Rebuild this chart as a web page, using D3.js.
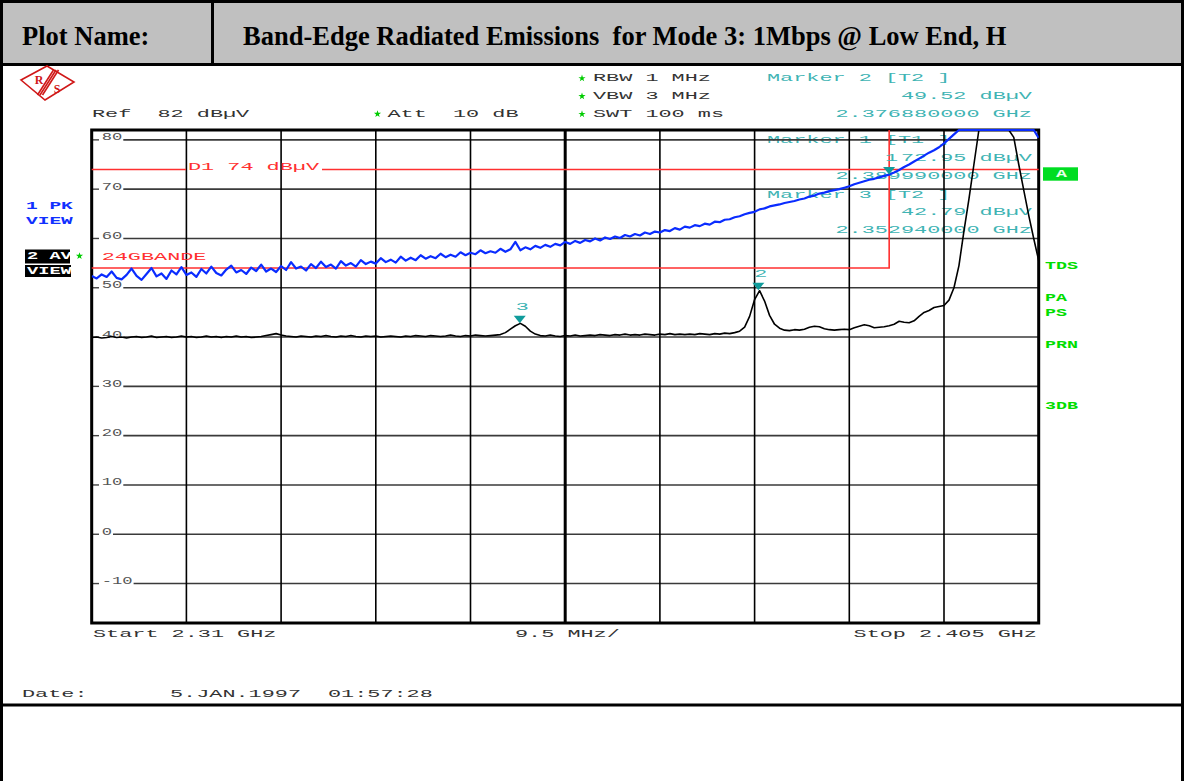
<!DOCTYPE html>
<html><head><meta charset="utf-8">
<script src="https://cdn.jsdelivr.net/npm/d3@7"></script>
<style>
html,body{margin:0;padding:0;background:#fff;}
svg{display:block;}
text{white-space:pre;}
</style></head><body>
<svg id="c" width="1184" height="781"></svg>
<script>
// ---------------- DATA ----------------
const plotTitleLabel = "Plot Name:";
const plotTitle = "Band-Edge Radiated Emissions  for Mode 3: 1Mbps @ Low End, H";
const sweepStartMHz = 2310, sweepStopMHz = 2405, sweepStepMHz = 0.5;
// Trace 1 (PK, max hold) dBµV, one value per sweep step
const trace1PK = [
52.4,51.9,52.7,52.2,53.3,52.0,51.7,52.6,53.9,52.4,
51.6,52.8,54.0,52.3,52.9,51.8,53.5,52.7,54.2,52.6,
53.1,52.2,53.8,52.9,54.3,53.0,52.5,53.7,54.5,53.1,
53.6,52.8,54.1,53.4,54.7,53.3,53.9,53.2,54.4,53.6,
55.2,53.9,54.3,53.5,54.8,54.0,55.3,54.2,54.7,53.9,
55.4,54.5,55.0,54.3,55.6,54.8,55.3,54.9,56.0,55.2,
55.7,55.1,56.3,55.5,56.1,55.6,56.6,55.9,56.4,56.0,
56.9,56.2,56.7,56.3,57.2,56.6,57.1,56.8,57.6,57.0,
57.4,57.1,57.9,57.3,57.8,59.3,57.6,58.2,57.8,58.5,
58.1,58.7,58.3,58.9,58.6,59.3,58.9,59.5,59.1,59.7,
59.4,60.0,59.6,60.2,59.9,60.4,60.1,60.7,60.4,60.9,
60.6,61.2,60.9,61.4,61.2,61.7,61.5,62.1,61.8,62.4,
62.2,62.7,62.5,63.0,62.8,63.4,63.3,63.8,63.9,64.3,
64.5,64.9,65.2,65.4,65.9,66.1,66.5,66.7,66.9,67.2,
67.4,67.6,67.9,68.1,68.5,68.7,69.1,69.3,69.6,69.8,
70.0,70.3,70.6,71.0,71.3,71.6,71.9,72.1,72.4,72.7,
72.95,73.4,73.9,74.5,75.0,75.6,76.2,76.8,77.4,77.9,
78.5,79.3,80.2,81.1,82,82,82,82,82,82,
82,82,82,82,82,82,82,82,82,82,
80.4];
// Trace 2 (AV) dBµV
const trace2AV = [
39.9,40.0,39.8,39.9,40.1,39.9,40.0,39.8,40.0,40.1,
39.9,40.0,40.2,39.9,40.0,40.1,39.9,40.0,40.2,40.0,
40.1,39.9,40.0,40.2,40.0,40.1,39.9,40.1,40.0,40.2,
40.0,40.1,39.9,40.0,40.1,40.3,40.5,40.7,40.4,40.2,
40.1,40.0,40.2,40.1,40.0,40.2,40.1,40.3,40.1,40.0,
40.2,40.1,40.3,40.1,40.0,40.2,40.1,40.2,40.0,40.1,
40.2,40.1,40.0,40.2,40.1,40.3,40.2,40.1,40.3,40.2,
40.1,40.2,40.4,40.2,40.1,40.3,40.2,40.4,40.3,40.2,
40.3,40.4,40.5,40.9,41.6,42.3,42.78,42.2,41.2,40.6,
40.3,40.2,40.4,40.2,40.1,40.3,40.2,40.4,40.2,40.3,
40.4,40.3,40.5,40.4,40.3,40.5,40.4,40.6,40.4,40.5,
40.4,40.6,40.5,40.4,40.6,40.5,40.7,40.5,40.6,40.5,
40.6,40.5,40.7,40.6,40.5,40.7,40.6,40.8,40.7,40.9,
41.2,42.0,44.2,47.6,49.4,47.3,44.4,42.6,41.8,41.4,
41.3,41.5,41.4,41.6,42.0,42.2,42.1,41.7,41.5,41.4,
41.5,41.6,41.5,41.9,42.2,42.5,42.3,41.9,42.0,42.1,
42.3,42.6,43.2,43.0,42.9,43.3,44.2,45.0,45.4,46.0,
46.2,46.4,47.5,50.0,54.5,61.5,68.0,75.0,82,82,
82,82,82,82,82,80.5,75.0,69.8,64.7,60.0,
55.5];
const xGridMHz = [2310,2319.5,2329,2338.5,2348,2357.5,2367,2376.5,2386,2395.5,2405];
const yRefTop = 82, yBottom = -18;
const yTicks = [80,70,60,50,40,30,20,10,0,-10];
const yTickLabels = ["80","70","60","50","40","30","20","10","0","-10"];
const limitLine24G = [[2310,54],[2390,54],[2390,82]];
const displayLineD1 = 74;
const markers = [
  {id:"1", mhz:2389.99, level:72.95},
  {id:"2", mhz:2376.88, level:49.52},
  {id:"3", mhz:2352.94, level:42.79}
];
const markerInfo = [
  ["Marker 2 [T2 ]","49.52 dBµV","2.376880000 GHz"],
  ["Marker 1 [T1 ]","72.95 dBµV","2.389990000 GHz"],
  ["Marker 3 [T2 ]","42.79 dBµV","2.352940000 GHz"]
];
const settingsRight = ["RBW 1 MHz","VBW 3 MHz","SWT 100 ms"];
const refText = "Ref  82 dBµV";
const attText = "Att  10 dB";
const startText = "Start 2.31 GHz", spanText = "9.5 MHz/", stopText = "Stop 2.405 GHz";
const dateLabel = "Date:", dateText = "5.JAN.1997", timeText = "01:57:28";
const sideLabels = ["TDS","PA","PS","PRN","3DB"];

// ---------------- LAYOUT ----------------
const svg = d3.select("#c");
const L = 91.7, R = 1038.7, T = 130, B = 623;
const x = d3.scaleLinear().domain([sweepStartMHz, sweepStopMHz]).range([L, R]);
const y = d3.scaleLinear().domain([yBottom, yRefTop]).range([B, T]);
const PITCH = 13.1;
const MONO = "'Liberation Mono','DejaVu Sans Mono',monospace";

function mono(g, px, py, str, color, o = {}) {
  const p = o.pitch || PITCH;
  return g.append("text").attr("x", px).attr("y", py)
    .attr("font-family", MONO)
    .attr("font-size", o.size || 11)
    .attr("font-weight", o.bold ? "bold" : "normal")
    .attr("fill", color)
    .attr("dominant-baseline", "central")
    .attr("textLength", str.length * p)
    .attr("lengthAdjust", "spacingAndGlyphs")
    .text(str);
}
function monoRight(g, xEnd, py, str, color, o = {}) {
  const p = o.pitch || PITCH;
  return mono(g, xEnd - str.length * p + p * 0.15, py, str, color, o);
}

// background
svg.append("rect").attr("width", 1184).attr("height", 781).attr("fill", "#fff");
// header
svg.append("rect").attr("x", 0).attr("y", 0).attr("width", 1184).attr("height", 65).attr("fill", "#c0c0c0");
const border = svg.append("g").attr("stroke", "#000").attr("stroke-width", 3);
border.append("line").attr("x1", 0).attr("x2", 1184).attr("y1", 1.5).attr("y2", 1.5);
border.append("line").attr("x1", 0).attr("x2", 1184).attr("y1", 64.5).attr("y2", 64.5);
border.append("line").attr("x1", 0).attr("x2", 1184).attr("y1", 705).attr("y2", 705);
border.append("line").attr("x1", 1.5).attr("x2", 1.5).attr("y1", 0).attr("y2", 781);
border.append("line").attr("x1", 1182.5).attr("x2", 1182.5).attr("y1", 0).attr("y2", 781);
border.append("line").attr("x1", 212.5).attr("x2", 212.5).attr("y1", 0).attr("y2", 65);

svg.append("text").attr("x", 22).attr("y", 45)
  .attr("font-family", "'Liberation Serif','Times New Roman',serif").attr("font-weight", "bold")
  .attr("font-size", 26.5).text(plotTitleLabel);
svg.append("text").attr("x", 243).attr("y", 45)
  .attr("font-family", "'Liberation Serif','Times New Roman',serif").attr("font-weight", "bold")
  .attr("font-size", 26.5).text(plotTitle);

// R&S logo
const logo = svg.append("g").attr("stroke", "#d01818").attr("fill", "none").attr("stroke-width", 1.6);
logo.append("path").attr("d", "M21,80 L47,66 L74,82 L45,100 Z");
[-2.5, 0, 2.5].forEach(o => logo.append("line").attr("x1", 40 + o).attr("y1", 95).attr("x2", 56 + o).attr("y2", 70));
svg.append("text").attr("x", 39).attr("y", 84).attr("font-family", "'Liberation Serif',serif").attr("font-weight", "bold")
  .attr("font-size", 12).attr("fill", "#d01818").attr("text-anchor", "middle").text("R");
svg.append("text").attr("x", 57).attr("y", 93).attr("font-family", "'Liberation Serif',serif").attr("font-weight", "bold")
  .attr("font-size", 12).attr("fill", "#d01818").attr("text-anchor", "middle").text("S");

// instrument header text
const star = d3.symbol().type(d3.symbolStar).size(16);
function greenStar(px, py) {
  svg.append("path").attr("d", star()).attr("transform", `translate(${px},${py})`).attr("fill", "#00cc00");
}
mono(svg, 92, 114, refText, "#333");
greenStar(377.5, 114);
mono(svg, 387.5, 114, attText, "#333");
settingsRight.forEach((s, i) => {
  greenStar(582, 78.3 + i * 17.9);
  mono(svg, 593, 78.3 + i * 17.9, s, "#333");
});
const TEAL = "#3fb4b4";
const infoRows = [78.3, 96.2, 114.1, 140, 158.2, 176.1, 194.5, 212.3, 229.6];
markerInfo.forEach((m, k) => {
  mono(svg, 767, infoRows[k * 3], m[0], TEAL);
  monoRight(svg, 1030, infoRows[k * 3 + 1], m[1], TEAL);
  monoRight(svg, 1030, infoRows[k * 3 + 2], m[2], TEAL);
});

// grid
const grid = svg.append("g");
yTicks.forEach((v, i) => {
  const yy = y(v);
  const lab = yTickLabels[i];
  const lx = 101.7, lw = lab.length * 10.3;
  grid.append("line").attr("x1", L).attr("x2", 99).attr("y1", yy).attr("y2", yy).attr("stroke", "#444").attr("stroke-width", 1.4);
  grid.append("line").attr("x1", lx + lw + 1).attr("x2", R).attr("y1", yy).attr("y2", yy).attr("stroke", "#3a3a3a").attr("stroke-width", 1.6);
  mono(grid, lx, yy - 2.5, lab, "#555", {size: 10.5, pitch: 10.3});
});
xGridMHz.forEach((f, i) => {
  grid.append("line").attr("x1", x(f)).attr("x2", x(f)).attr("y1", T).attr("y2", B)
    .attr("stroke", "#000").attr("stroke-width", i === 5 ? 3 : 1.6);
});
svg.append("rect").attr("x", L).attr("y", T).attr("width", R - L).attr("height", B - T)
  .attr("fill", "none").attr("stroke", "#000").attr("stroke-width", 3);

// limit lines
const RED = "#ff3030";
const d1Gap = [186, 322];
svg.append("line").attr("x1", L).attr("x2", d1Gap[0]).attr("y1", y(displayLineD1)).attr("y2", y(displayLineD1)).attr("stroke", RED).attr("stroke-width", 1.6);
svg.append("line").attr("x1", d1Gap[1]).attr("x2", R).attr("y1", y(displayLineD1)).attr("y2", y(displayLineD1)).attr("stroke", RED).attr("stroke-width", 1.6);
mono(svg, 188, y(displayLineD1) - 2.5, "D1 " + displayLineD1 + " dBµV", RED);
svg.append("path").datum(limitLine24G)
  .attr("d", d3.line().x(d => x(d[0])).y(d => y(d[1])))
  .attr("fill", "none").attr("stroke", RED).attr("stroke-width", 1.6);
mono(svg, 101.7, 256.7, "24GBANDE", RED);

// traces
svg.append("clipPath").attr("id", "clip").append("rect").attr("x", L).attr("y", T - 1).attr("width", R - L).attr("height", B - T + 1);
const fx = (d, i) => x(sweepStartMHz + i * sweepStepMHz);
const line = d3.line().x(fx).y(d => y(d));
svg.append("path").datum(trace2AV).attr("d", line).attr("clip-path", "url(#clip)")
  .attr("fill", "none").attr("stroke", "#000").attr("stroke-width", 1.6).attr("stroke-linejoin", "round");
svg.append("path").datum(trace1PK).attr("d", line).attr("clip-path", "url(#clip)")
  .attr("fill", "none").attr("stroke", "#0a2cff").attr("stroke-width", 2.2).attr("stroke-linejoin", "round");

// markers
markers.forEach(m => {
  const mx = x(m.mhz), my = y(m.level);
  svg.append("path").attr("d", `M${mx - 6},${my - 7.5} L${mx + 6},${my - 7.5} L${mx},${my} Z`).attr("fill", "#109c9c");
  mono(svg, mx - 4, my - 16.5, m.id, TEAL);
});

// left labels
mono(svg, 26, 206, "1 PK", "#1030ff", {bold: true, size: 10, pitch: 11.7});
mono(svg, 26, 221.5, "VIEW", "#1030ff", {bold: true, size: 10, pitch: 11.7});
svg.append("rect").attr("x", 25).attr("y", 249.5).attr("width", 45).attr("height", 14).attr("fill", "#000");
svg.append("rect").attr("x", 25).attr("y", 265).attr("width", 46).attr("height", 12).attr("fill", "#000");
mono(svg, 27, 256.5, "2 AV", "#fff", {bold: true, size: 10, pitch: 11.2});
mono(svg, 27, 271, "VIEW", "#fff", {bold: true, size: 10, pitch: 11.2});
greenStar(79.5, 256);

// right labels
svg.append("rect").attr("x", 1043).attr("y", 167.3).attr("width", 35).attr("height", 13.4).attr("fill", "#00dd22");
mono(svg, 1056, 174, "A", "#e8ffe8", {bold: true, size: 10, pitch: 11});
const sideY = [266.7, 298.3, 313.3, 345, 406];
sideLabels.forEach((s, i) => mono(svg, 1045, sideY[i], s, "#00dd00", {bold: true, size: 10, pitch: 11}));

// bottom texts
mono(svg, 93, 634, startText, "#333");
mono(svg, 515, 634, spanText, "#333");
monoRight(svg, 1035, 634, stopText, "#333");
mono(svg, 22, 694, dateLabel, "#333");
mono(svg, 170, 694, dateText, "#333");
mono(svg, 328, 694, timeText, "#333");
</script>
</body></html>
